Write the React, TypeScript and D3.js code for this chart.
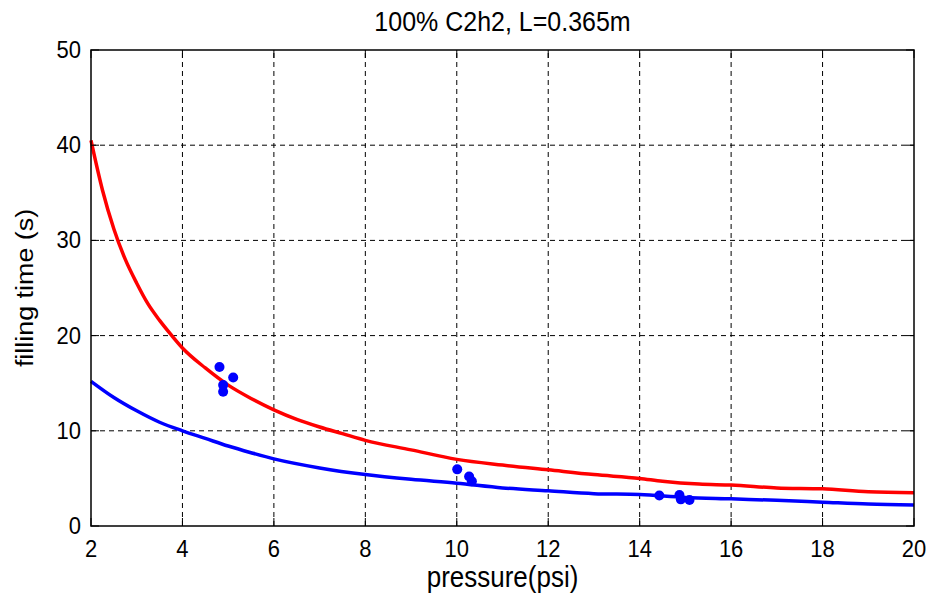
import React, { useEffect, useRef } from 'react';
import * as d3 from 'd3';

// upper (red) curve
const redX = [2, 2.25, 2.5, 2.75, 3, 3.25, 3.5, 3.75, 4, 4.5, 5, 5.5, 6, 6.5, 7, 7.5, 8, 9, 10, 11, 12, 13, 14, 14.5, 15.3, 16, 17, 18, 19, 20];
const redY = [40.5, 35.3, 31.2, 28.0, 25.5, 23.3, 21.6, 20.1, 18.7, 16.6, 14.8, 13.4, 12.2, 11.2, 10.4, 9.7, 9.0, 8.0, 7.0, 6.4, 5.9, 5.4, 5.0, 4.7, 4.4, 4.3, 4.0, 3.9, 3.6, 3.5];

// lower (blue) curve
const blueX = [2, 2.5, 3, 3.5, 4, 4.5, 5, 5.5, 6, 7, 8, 9, 10, 11, 12, 13, 14, 15, 16, 17, 18, 19, 20];
const blueY = [15.2, 13.5, 12.1, 10.9, 10.0, 9.2, 8.4, 7.7, 7.05, 6.1, 5.4, 4.9, 4.5, 4.0, 3.7, 3.4, 3.3, 3.0, 2.85, 2.7, 2.5, 2.3, 2.2];

// measured points
const dotX = [4.81, 5.11, 4.89, 4.89, 10.01, 10.27, 10.33, 14.43, 14.87, 14.9, 15.09];
const dotY = [16.7, 15.6, 14.8, 14.1, 5.95, 5.2, 4.7, 3.2, 3.25, 2.8, 2.73];

const xTicks = [2, 4, 6, 8, 10, 12, 14, 16, 18, 20];
const yTicks = [0, 10, 20, 30, 40, 50];

const W = 930;
const H = 595;
const margin = { top: 50, right: 16, bottom: 69, left: 91 };
const SY = 1.12; // text in the picture looks a little stretched vertically

const App = () => {
  const svgRef = useRef<SVGSVGElement>(null);

  useEffect(() => {
    const svg = d3.select(svgRef.current);
    svg.selectAll('*').remove();

    const x = d3.scaleLinear().domain([2, 20]).range([margin.left, W - margin.right]);
    const y = d3.scaleLinear().domain([0, 50]).range([H - margin.bottom, margin.top]);
    const font = 'Arial, "Liberation Sans", sans-serif';

    // grid
    const grid = svg.append('g').attr('stroke', '#000').attr('stroke-width', 1).attr('stroke-dasharray', '5,4');
    grid.selectAll('.gx')
      .data(xTicks.slice(1, -1))
      .join('line')
      .attr('x1', d => x(d)).attr('x2', d => x(d))
      .attr('y1', y(0)).attr('y2', y(50));
    grid.selectAll('.gy')
      .data(yTicks.slice(1, -1))
      .join('line')
      .attr('y1', d => y(d)).attr('y2', d => y(d))
      .attr('x1', x(2)).attr('x2', x(20));

    // curves
    const line = d3.line<[number, number]>()
      .x(d => x(d[0]))
      .y(d => y(d[1]))
      .curve(d3.curveMonotoneX);

    svg.append('path')
      .datum(redX.map((v, i) => [v, redY[i]] as [number, number]))
      .attr('d', line)
      .attr('fill', 'none')
      .attr('stroke', '#ff0000')
      .attr('stroke-width', 3.5);

    svg.append('path')
      .datum(blueX.map((v, i) => [v, blueY[i]] as [number, number]))
      .attr('d', line)
      .attr('fill', 'none')
      .attr('stroke', '#0000ff')
      .attr('stroke-width', 3.5);

    svg.selectAll('.dot')
      .data(dotX.map((v, i) => [v, dotY[i]]))
      .join('circle')
      .attr('cx', d => x(d[0]))
      .attr('cy', d => y(d[1]))
      .attr('r', 5)
      .attr('fill', '#0000ff');

    // box + inward ticks
    svg.append('rect')
      .attr('x', x(2)).attr('y', y(50))
      .attr('width', x(20) - x(2)).attr('height', y(0) - y(50))
      .attr('fill', 'none').attr('stroke', '#000').attr('stroke-width', 1.5);

    const tl = 8;
    const ticks = svg.append('g').attr('stroke', '#000').attr('stroke-width', 1);
    ticks.selectAll('.tb').data(xTicks).join('line')
      .attr('x1', d => x(d)).attr('x2', d => x(d)).attr('y1', y(0)).attr('y2', y(0) - tl);
    ticks.selectAll('.tt').data(xTicks).join('line')
      .attr('x1', d => x(d)).attr('x2', d => x(d)).attr('y1', y(50)).attr('y2', y(50) + tl);
    ticks.selectAll('.tlft').data(yTicks).join('line')
      .attr('y1', d => y(d)).attr('y2', d => y(d)).attr('x1', x(2)).attr('x2', x(2) + tl);
    ticks.selectAll('.trt').data(yTicks).join('line')
      .attr('y1', d => y(d)).attr('y2', d => y(d)).attr('x1', x(20)).attr('x2', x(20) - tl);

    // tick labels
    svg.append('g').selectAll('text').data(xTicks).join('text')
      .attr('transform', d => `translate(${x(d)},${y(0) + 31}) scale(1,${SY})`)
      .attr('text-anchor', 'middle')
      .attr('font-family', font).attr('font-size', 22)
      .text(d => d);
    svg.append('g').selectAll('text').data(yTicks).join('text')
      .attr('transform', d => `translate(${x(2) - 10},${y(d) + 8}) scale(1,${SY})`)
      .attr('text-anchor', 'end')
      .attr('font-family', font).attr('font-size', 22)
      .text(d => d);

    // title and axis labels
    svg.append('text')
      .attr('transform', `translate(${(x(2) + x(20)) / 2},31) scale(1,${SY})`)
      .attr('text-anchor', 'middle')
      .attr('font-family', font).attr('font-size', 25)
      .text('100% C2h2, L=0.365m');
    svg.append('text')
      .attr('transform', `translate(${(x(2) + x(20)) / 2},587) scale(1,${SY})`)
      .attr('text-anchor', 'middle')
      .attr('font-family', font).attr('font-size', 26)
      .text('pressure(psi)');
    svg.append('text')
      .attr('transform', `translate(33, ${(y(0) + y(50)) / 2}) rotate(-90) scale(${SY},1)`)
      .attr('text-anchor', 'middle')
      .attr('font-family', font).attr('font-size', 24)
      .text('filling time (s)');
  }, []);

  return (
    <svg ref={svgRef} width={W} height={H} style={{ position: 'absolute', left: 0, top: 0, background: '#fff' }} />
  );
};

export default App;
